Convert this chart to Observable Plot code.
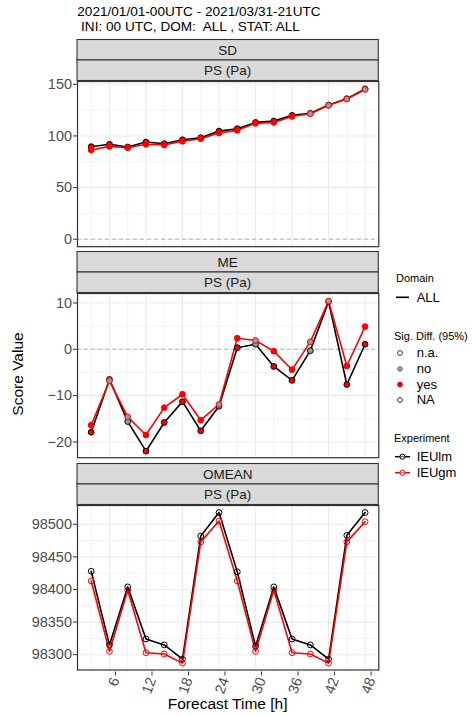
<!DOCTYPE html>
<html><head><meta charset="utf-8">
<script src="https://cdn.jsdelivr.net/npm/d3@7"></script>
<script src="https://cdn.jsdelivr.net/npm/@observablehq/plot@0.6"></script>
<style>
body{margin:0;background:#fff;}
#root{position:relative;width:473px;height:716px;font-family:"Liberation Sans",Arial,Helvetica,sans-serif;overflow:hidden;background:#fff;}
#root > svg{position:absolute;left:0;overflow:visible;max-width:none;}
#overlay{position:absolute;left:0;top:0;}
</style></head><body><div id="root"></div>
<script>
const FONT = '"Liberation Sans",Arial,Helvetica,sans-serif';
// ---------- data ----------
const hours = [3,6,9,12,15,18,21,24,27,30,33,36,39,42,45,48];
const experiments = ["IEUlm","IEUgm"];
const sdIEUlm = [89.6,91.9,89.3,94.1,92.5,96.3,98.3,104.7,107.0,113.1,114.4,119.9,121.9,129.9,136.0,145.6];
const sdIEUgm = [86.4,89.9,88.6,91.9,91.2,94.8,97.3,102.8,105.4,112.2,113.1,118.9,121.5,129.6,135.7,145.0];
const sdSig = ["yes","yes","yes","yes","yes","yes","yes","yes","yes","yes","yes","yes","no","no","no","no"];
const meIEUlm = [-17.9,-6.5,-15.6,-22.0,-15.8,-11.3,-17.6,-12.3,0.35,1.1,-3.7,-6.7,-0.3,10.3,-7.6,1.1];
const meIEUgm = [-16.4,-6.8,-14.6,-18.5,-12.6,-9.7,-15.3,-11.9,2.4,1.9,-0.4,-4.4,1.6,10.4,-3.6,4.9];
const meSig = ["yes","no","no","yes","yes","yes","yes","no","yes","no","yes","yes","no","no","yes","yes"];
const omIEUlm = [98428,98315,98404,98324,98315,98293,98482,98518,98427,98313,98404,98324,98315,98293,98483,98518];
const omIEUgm = [98413,98305,98399,98303,98301,98287,98473,98505,98413,98305,98399,98303,98301,98287,98473,98504];
const omSig = hours.map(() => "NA");
const xMajor = [6,12,18,24,30,36,42,48];
const xMinor = [3,9,15,21,27,33,39,45];
const sdTicks = [0,50,100,150], sdMinor = [25,75,125];
const meTicks = [-20,-10,0,10], meMinor = [-15,-5,5];
const omTicks = [98300,98350,98400,98450,98500], omMinor = [98325,98375,98425,98475,98525];
const sigLevels = ["n.a.","no","yes","NA"];
const colorKeys = ["IEUlm","IEUgm","yes","no","n.a.","NA"];
const colorVals = ["#000000","#ff0000","#ff0000","#9a9a9a","none","none"];

function rows(a, b, sig) {
  const out = [];
  hours.forEach((h,i) => out.push({h, v:a[i], exp:"IEUlm", sig:sig[i]}));
  hours.forEach((h,i) => out.push({h, v:b[i], exp:"IEUgm", sig:sig[i]}));
  return out;
}

const root = document.getElementById("root");
const LEFT = 77, RIGHT = 378.3, W = 380;

function panel({top, bottom, domain, ticks, minor, zero, data, xaxis}) {
  const mt = 6, mb = xaxis ? 44 : 6;
  const h = bottom - top;
  const svg = Plot.plot({
    width: W, height: h + mt + mb,
    marginLeft: LEFT, marginRight: W - RIGHT, marginTop: mt, marginBottom: mb,
    x: {domain: [0.75, 50.25], axis: null},
    y: {domain, axis: null},
    color: {domain: colorKeys, range: colorVals},
    style: {fontFamily: FONT, background: "transparent", color: "#4d4d4d", overflow: "visible"},
    marks: [
      Plot.gridX(xMinor, {stroke: "#ebebeb", strokeOpacity: 1, strokeWidth: 0.6}),
      Plot.gridX(xMajor, {stroke: "#ebebeb", strokeOpacity: 1, strokeWidth: 1.1}),
      Plot.gridY(minor, {stroke: "#ebebeb", strokeOpacity: 1, strokeWidth: 0.6}),
      Plot.gridY(ticks, {stroke: "#ebebeb", strokeOpacity: 1, strokeWidth: 1.1}),
      zero ? Plot.ruleY([0], {stroke: "#b5b5b5", strokeWidth: 1, strokeDasharray: "4,3"}) : null,
      Plot.line(data, {x: "h", y: "v", z: "exp", stroke: "exp", strokeWidth: 1.6}),
      Plot.dot(data, {x: "h", y: "v", stroke: "exp", fill: "sig", r: 2.9, strokeWidth: 1}),
      Plot.frame({stroke: "#333333", strokeWidth: 1.2}),
      Plot.axisY(ticks, {label: null, tickFormat: d3.format("d"), tickSize: 4, tickPadding: 1.5, fontSize: 14.5, stroke: "#333333", fill: "#4d4d4d"}),
      xaxis ? Plot.axisX(xMajor, {label: null, tickFormat: d3.format("d"), tickSize: 4, tickPadding: 2, tickRotate: -70, fontSize: 14.5, stroke: "#333333", fill: "#4d4d4d", dx: 6, dy: 2}) : null
    ]
  });
  svg.style.position = "absolute";
  svg.style.left = "0px";
  svg.style.top = (top - mt) + "px";
  root.appendChild(svg);
}

panel({top: 80.5, bottom: 245.7, domain: [-7.2, 152.7], ticks: sdTicks, minor: sdMinor, zero: true, data: rows(sdIEUlm, sdIEUgm, sdSig)});
panel({top: 292.5, bottom: 456.7, domain: [-23.4, 12.05], ticks: meTicks, minor: meMinor, zero: true, data: rows(meIEUlm, meIEUgm, meSig)});
panel({top: 504.5, bottom: 669, domain: [98276.5, 98528.8], ticks: omTicks, minor: omMinor, zero: false, data: rows(omIEUlm, omIEUgm, omSig), xaxis: true});

// ---------- overlay: titles, strips, legend ----------
const ov = d3.select(root).append("svg").attr("id","overlay").attr("width",473).attr("height",716)
  .style("font-family", FONT).style("position","absolute").style("left","0px").style("top","0px");

function txt(x, y, s, size, opts = {}) {
  const t = ov.append("text").attr("x", x).attr("y", y).text(s)
    .attr("font-size", size).attr("fill", opts.fill || "#000")
    .style("white-space", "pre");
  if (opts.anchor) t.attr("text-anchor", opts.anchor);
  if (opts.rotate != null) t.attr("transform", `rotate(${opts.rotate},${x},${y})`);
  return t;
}

txt(77.3, 16, "2021/01/01-00UTC - 2021/03/31-21UTC", 13.6);
txt(77.3, 30.7, " INI: 00 UTC, DOM:  ALL , STAT: ALL", 13.6);

const strips = [
  [39.5, 60, 80.5, "SD"],
  [251.5, 272, 292.5, "ME"],
  [463.5, 484, 504.5, "OMEAN"]
];
strips.forEach(([a, b, c, name]) => {
  [[a, b, name], [b, c, "PS (Pa)"]].forEach(([y0, y1, label]) => {
    ov.append("rect").attr("x", LEFT).attr("y", y0).attr("width", RIGHT - LEFT).attr("height", y1 - y0)
      .attr("fill", "#d9d9d9").attr("stroke", "#333333").attr("stroke-width", 1.1);
    txt((LEFT + RIGHT) / 2, (y0 + y1) / 2 + 4.9, label, 13.5, {anchor: "middle", fill: "#1a1a1a"});
  });
});

txt(22.5, 374, "Score Value", 15.5, {anchor: "middle", rotate: -90});
txt((LEFT + RIGHT) / 2, 709, "Forecast Time [h]", 15.5, {anchor: "middle"});

// legend
const LX = 396;
txt(LX, 282, "Domain", 11);
ov.append("line").attr("x1", 396).attr("x2", 409).attr("y1", 297.3).attr("y2", 297.3).attr("stroke", "#000").attr("stroke-width", 1.6);
txt(416.7, 302, "ALL", 13);

txt(LX - 2, 340, "Sig. Diff. (95%)", 11);
const sigY = [353, 369, 384.5, 400];
const sigFill = {"n.a.": "#ffffff", "no": "#9a9a9a", "yes": "#ff0000", "NA": "#ffffff"};
const sigStroke = {"n.a.": "#333333", "no": "#7a7a7a", "yes": "#dd0000", "NA": "#333333"};
sigLevels.forEach((s, i) => {
  ov.append("circle").attr("cx", 400).attr("cy", sigY[i]).attr("r", 2.4)
    .attr("fill", sigFill[s]).attr("stroke", sigStroke[s]).attr("stroke-width", 1);
  txt(416.7, sigY[i] + 4.3, s, 13);
});

txt(LX - 2, 441.5, "Experiment", 11);
const expY = [456.7, 472.7];
const expCol = ["#000000", "#ff0000"];
experiments.forEach((e, i) => {
  ov.append("line").attr("x1", 395).attr("x2", 410).attr("y1", expY[i]).attr("y2", expY[i]).attr("stroke", expCol[i]).attr("stroke-width", 1.5);
  ov.append("circle").attr("cx", 402.5).attr("cy", expY[i]).attr("r", 2.6).attr("fill", "#fff").attr("fill-opacity", 0.5)
    .attr("stroke", expCol[i]).attr("stroke-width", 1);
  txt(416.7, expY[i] + 4.6, e, 13);
});
</script></body></html>
